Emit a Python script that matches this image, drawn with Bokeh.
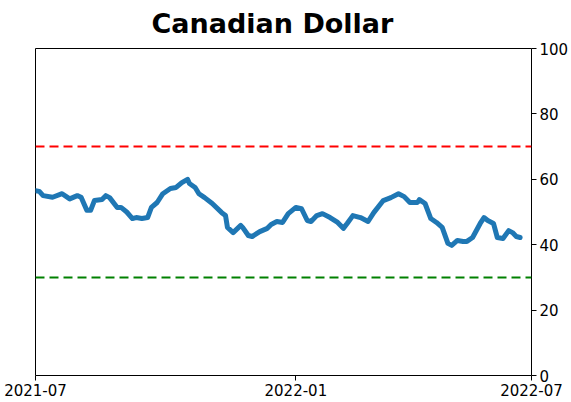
from bokeh.plotting import figure
from bokeh.models import FixedTicker, Range1d, Span, Title
from bokeh.embed import file_html
from bokeh.resources import INLINE

# trading-day index since 2021-07-01 and indicator values
days = [0, 2, 4, 9, 14, 18, 22, 24, 27, 29, 31, 35, 37, 39, 43, 45, 48, 51, 53, 56,
        59, 61, 64, 67, 71, 74, 77, 80, 81, 84, 86, 89, 93, 98, 100, 101, 104, 108,
        109, 112, 114, 118, 122, 124, 127, 130, 133, 137, 140, 143, 145, 148, 151,
        155, 159, 162, 164, 167, 171, 175, 178, 183, 187, 191, 194, 197, 201, 202,
        205, 208, 211, 214, 217, 219, 222, 225, 227, 230, 234, 236, 238, 241, 243,
        246, 249, 251, 253, 255]
vals = [56.5, 56.3, 55.0, 54.5, 55.6, 54.0, 55.0, 54.5, 50.5, 50.5, 53.5, 53.8, 55.0,
        54.4, 51.4, 51.4, 50.0, 48.0, 48.3, 48.0, 48.3, 51.4, 52.9, 55.6, 57.2, 57.5,
        59.0, 60.0, 58.7, 57.5, 55.6, 54.4, 52.6, 49.8, 48.9, 45.3, 43.7, 45.9, 45.3,
        42.8, 42.5, 44.0, 45.0, 46.2, 47.1, 46.8, 49.5, 51.4, 51.0, 47.4, 47.1, 48.9,
        49.5, 48.3, 46.8, 45.0, 46.5, 48.9, 48.3, 47.1, 49.8, 53.5, 54.4, 55.6, 54.7,
        52.9, 52.9, 53.8, 52.6, 48.0, 46.8, 45.3, 40.4, 39.8, 41.3, 41.0, 41.0, 42.2,
        46.5, 48.3, 47.4, 46.5, 42.2, 41.9, 44.3, 43.7, 42.5, 42.2]

tick_pos = [0, 137, 261]
tick_labels = ["2021-07", "2022-01", "2022-07"]
y_ticks = [0, 20, 40, 60, 80, 100]
upper, lower = 70, 30
title_text = "Canadian Dollar"

p = figure(width=571, height=398, output_backend="svg", toolbar_location=None,
           x_range=Range1d(0, 261), y_range=Range1d(0, 100),
           y_axis_location="right", min_border_left=35, min_border_right=5,
           min_border_top=0, min_border_bottom=5)
p.title = None
p.add_layout(Title(text=title_text, text_font="DejaVu Sans", text_font_size="27px",
                   text_font_style="bold", text_color="black", align="left",
                   vertical_align="top", offset=116, standoff=15), "above")

p.grid.visible = False
p.outline_line_color = "black"
p.outline_line_width = 1
p.background_fill_color = "white"
p.border_fill_color = "white"

for ax in (p.xaxis[0], p.yaxis[0]):
    ax.major_label_text_font = "DejaVu Sans"
    ax.major_label_text_font_size = "15px"
    ax.major_label_text_color = "black"
    ax.axis_line_color = None
    ax.major_tick_line_color = "black"
    ax.major_tick_out = 5
    ax.major_tick_in = 0
    ax.minor_tick_line_color = None
    ax.major_label_standoff = 3

p.xaxis.ticker = FixedTicker(ticks=tick_pos)
p.xaxis.major_label_overrides = {t: l for t, l in zip(tick_pos, tick_labels)}
p.yaxis.ticker = FixedTicker(ticks=y_ticks)

p.add_layout(Span(location=upper, dimension="width", line_color="#ff0000",
                  line_width=2, line_dash="9 5"))
p.add_layout(Span(location=lower, dimension="width", line_color="#008000",
                  line_width=2, line_dash="9 5"))

p.line(days, vals, line_color="#1f77b4", line_width=5, line_join="round", line_cap="round")

open("out.html", "w").write(file_html(p, INLINE))
